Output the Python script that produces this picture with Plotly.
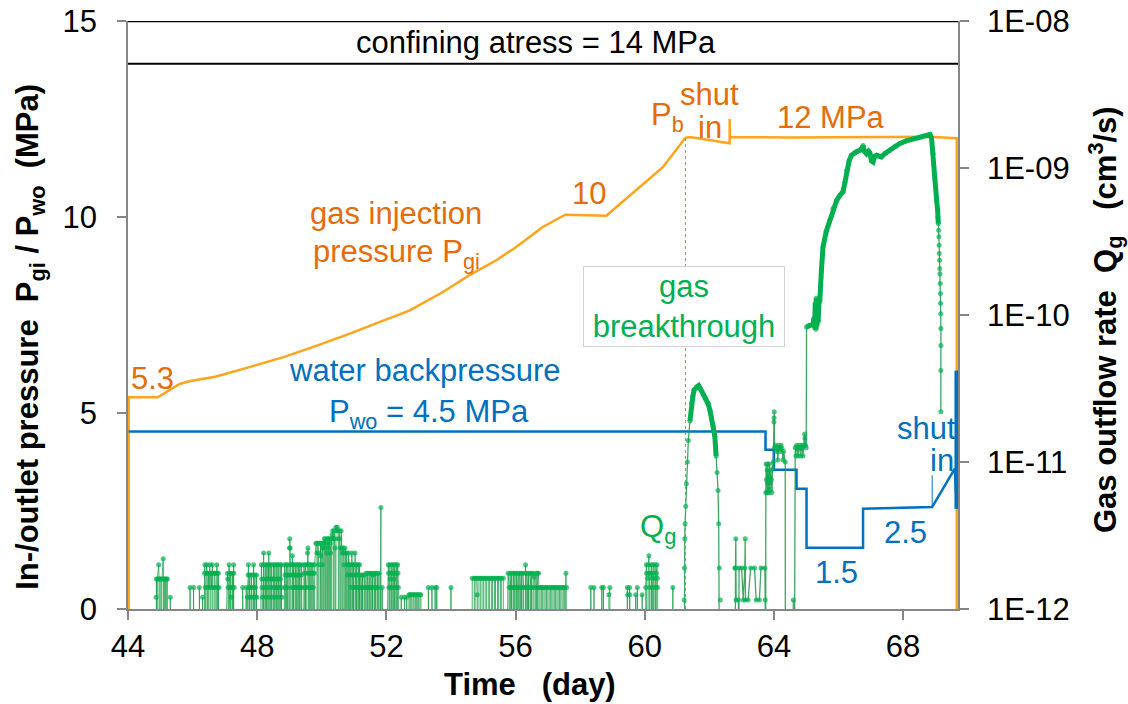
import plotly.graph_objects as go

# ---------------- data ----------------
x_ticks = [44, 48, 52, 56, 60, 64, 68]
y_ticks = [0, 5, 10, 15]
y2_tickvals = [1e-12, 1e-11, 1e-10, 1e-9, 1e-8]
y2_ticktext = ["1E-12", "1E-11", "1E-10", "1E-09", "1E-08"]

# confining stress (MPa)
conf_day = [44.0, 69.7]
conf_mpa = [13.91, 13.91]

# gas injection pressure Pgi (MPa)
pgi_day = [44.02, 44.02, 44.92, 45.60, 45.90, 46.73, 47.76, 48.79, 49.72, 50.85, 51.78, 52.71,
           53.74, 54.56, 55.39, 56.01, 56.83, 57.54, 58.81, 59.63, 60.56, 61.26, 61.39, 62.63,
           62.63, 62.64, 64.50, 66.50, 68.80, 69.66, 69.66]
pgi_mpa = [0.0, 5.40, 5.40, 5.74, 5.81, 5.93, 6.17, 6.42, 6.68, 7.02, 7.32, 7.61,
           8.08, 8.51, 8.89, 9.23, 9.74, 10.06, 10.03, 10.60, 11.27, 12.02, 12.04, 11.88,
           12.50, 12.04, 12.03, 12.04, 12.05, 12.01, 0.0]

# water backpressure Pwo (MPa)
pwo_day = [44.02, 63.74, 63.74, 64.00, 64.00, 64.70, 64.70, 65.01, 65.01, 66.76, 66.76,
           68.90, 69.60, 69.66, 69.66]
pwo_mpa = [4.53, 4.53, 4.06, 4.06, 3.55, 3.55, 3.07, 3.07, 1.56, 1.56, 2.56,
           2.60, 3.58, 2.56, 6.08]

# gas outflow readings before breakthrough: (day, Qg in 1E-12 cm3/s), 0 = below detection
qg_noise_readings = [
    (44.86, 0), (44.87, 1.2), (44.88, 1.6), (44.89, 0), (44.91, 1.6), (44.95, 2.0), (44.96, 1.6), (44.97, 0),
    (44.99, 1.6), (45.02, 1.6), (45.03, 0), (45.05, 1.6), (45.09, 2.2), (45.10, 1.6), (45.11, 0), (45.13, 1.6),
    (45.16, 1.6), (45.17, 0), (45.19, 1.6), (45.22, 1.6), (45.23, 0), (45.30, 0), (45.31, 1.2), (45.32, 0),
    (45.91, 0), (45.92, 1.4), (45.93, 0), (46.02, 0), (46.03, 1.4), (46.04, 0), (46.20, 0), (46.21, 1.4),
    (46.22, 0), (46.30, 0), (46.31, 1.2), (46.32, 0),
    (46.37, 1.75), (46.38, 2.0), (46.39, 1.4), (46.40, 0), (46.42, 1.75), (46.44, 2.0), (46.45, 1.75), (46.46, 1.4),
    (46.47, 0), (46.49, 1.75), (46.51, 1.4), (46.53, 2.0), (46.54, 1.75), (46.55, 0), (46.57, 1.75), (46.59, 1.4),
    (46.61, 2.0), (46.62, 1.75), (46.63, 0), (46.65, 1.4), (46.67, 1.75), (46.69, 1.75), (46.70, 1.4), (46.71, 0),
    (46.73, 1.75), (46.75, 2.0), (46.76, 1.75), (46.77, 1.4), (46.78, 0), (46.80, 1.75), (46.82, 1.4), (46.83, 0),
    (47.08, 1.75), (47.09, 1.6), (47.10, 1.4), (47.11, 0), (47.13, 2.0), (47.14, 1.75), (47.15, 1.4), (47.16, 0),
    (47.18, 1.75), (47.19, 1.2), (47.20, 1.4), (47.21, 0), (47.23, 1.75), (47.24, 1.4), (47.25, 0), (47.27, 2.0),
    (47.28, 1.75), (47.29, 1.4), (47.30, 0), (47.54, 0), (47.55, 1.4), (47.56, 0), (47.65, 0), (47.66, 1.4),
    (47.67, 0),
    (47.70, 1.2), (47.72, 1.7), (47.73, 2.0), (47.74, 1.4), (47.75, 0), (47.77, 1.7), (47.78, 1.2), (47.79, 1.4),
    (47.80, 0), (47.82, 1.7), (47.83, 1.4), (47.84, 1.2), (47.85, 0), (47.87, 1.7), (47.89, 2.0), (47.90, 1.4),
    (47.91, 0), (47.93, 1.7), (47.94, 1.2), (47.95, 1.4), (47.96, 0), (47.98, 1.7), (47.99, 1.2), (48.00, 0),
    (48.13, 2.0), (48.14, 1.6), (48.15, 1.4), (48.16, 1.2), (48.17, 0), (48.19, 2.0), (48.20, 2.4), (48.21, 1.6),
    (48.22, 0), (48.24, 1.4), (48.25, 2.0), (48.26, 1.2), (48.27, 0), (48.29, 1.6), (48.30, 2.0), (48.31, 1.4),
    (48.32, 0), (48.34, 2.0), (48.35, 1.6), (48.36, 2.4), (48.37, 1.2), (48.38, 0), (48.40, 2.0), (48.41, 1.4),
    (48.42, 1.6), (48.43, 0), (48.45, 2.0), (48.46, 1.2), (48.47, 1.6), (48.48, 0), (48.50, 1.4), (48.51, 2.0),
    (48.52, 1.6), (48.53, 0), (48.55, 2.0), (48.56, 1.2), (48.57, 1.4), (48.58, 0), (48.60, 1.6), (48.61, 2.0),
    (48.62, 1.4), (48.63, 0), (48.65, 2.0), (48.66, 1.6), (48.67, 1.2), (48.68, 0), (48.70, 1.4), (48.71, 2.0),
    (48.72, 1.6), (48.73, 0), (48.75, 2.0), (48.76, 1.4), (48.77, 1.2), (48.78, 0),
    (48.85, 2.0), (48.86, 1.7), (48.87, 1.4), (48.88, 0), (48.90, 2.0), (48.91, 1.7), (48.92, 0), (48.94, 1.4),
    (48.95, 2.0), (48.96, 1.7), (48.97, 0), (49.00, 2.6), (49.01, 3.0), (49.02, 2.6), (49.03, 2.0), (49.04, 1.7),
    (49.05, 0), (49.07, 1.4), (49.08, 2.0), (49.09, 2.3), (49.10, 1.7), (49.11, 0), (49.13, 2.0), (49.14, 1.4),
    (49.15, 1.7), (49.16, 0), (49.18, 2.0), (49.19, 1.7), (49.20, 1.4), (49.21, 0), (49.23, 2.0), (49.24, 1.7),
    (49.25, 0), (49.27, 1.4), (49.28, 2.0), (49.29, 1.7), (49.30, 0), (49.32, 2.0), (49.33, 1.4), (49.34, 0),
    (49.36, 1.7), (49.37, 2.0), (49.38, 1.4), (49.40, 0),
    (49.45, 2.0), (49.46, 1.75), (49.47, 1.4), (49.48, 0), (49.50, 2.0), (49.51, 1.75), (49.52, 0), (49.54, 1.4),
    (49.55, 2.0), (49.56, 2.4), (49.57, 2.6), (49.58, 2.0), (49.59, 1.75), (49.60, 0), (49.62, 1.4), (49.63, 2.0),
    (49.64, 1.75), (49.65, 0), (49.67, 2.0), (49.68, 1.4), (49.69, 1.75), (49.70, 0), (49.72, 2.0), (49.73, 1.75),
    (49.74, 1.4), (49.75, 0), (49.77, 1.75), (49.78, 2.0),
    (49.82, 2.8), (49.84, 2.8), (49.85, 2.4), (49.86, 0), (49.88, 2.8), (49.90, 2.4), (49.91, 2.0), (49.92, 0),
    (49.94, 2.8), (49.96, 2.8), (49.97, 2.3), (49.98, 0), (50.00, 2.8), (50.02, 2.6), (50.03, 2.0), (50.04, 0),
    (50.06, 2.8), (50.08, 3.0), (50.09, 2.6), (50.10, 0), (50.12, 3.0), (50.14, 2.8), (50.15, 2.4), (50.16, 0),
    (50.18, 3.0), (50.20, 3.0), (50.21, 2.6), (50.22, 0), (50.24, 3.0), (50.26, 2.8), (50.27, 2.4), (50.28, 0),
    (50.30, 3.0), (50.32, 3.2), (50.34, 3.4), (50.35, 3.0), (50.36, 0), (50.38, 3.4), (50.40, 3.0), (50.41, 2.6),
    (50.42, 0), (50.44, 3.6), (50.46, 3.4), (50.48, 3.6), (50.50, 3.4), (50.51, 3.0), (50.52, 0), (50.54, 3.4),
    (50.56, 3.0), (50.57, 2.6), (50.58, 0), (50.60, 3.4), (50.62, 2.6), (50.63, 2.4), (50.64, 0), (50.66, 2.6),
    (50.68, 2.4), (50.69, 2.0), (50.70, 0), (50.72, 2.6), (50.74, 2.4), (50.75, 0), (50.77, 2.4), (50.79, 2.0),
    (50.80, 1.7), (50.81, 0), (50.83, 2.4), (50.85, 2.0), (50.86, 0),
    (50.88, 2.0), (50.89, 1.7), (50.90, 1.4), (50.91, 0), (50.93, 2.4), (50.94, 2.0), (50.95, 1.7), (50.96, 0),
    (50.98, 2.0), (50.99, 1.4), (51.00, 1.7), (51.01, 0), (51.03, 2.4), (51.04, 2.0), (51.05, 1.4), (51.06, 0),
    (51.08, 2.0), (51.09, 1.7), (51.10, 0), (51.12, 1.4), (51.13, 2.0), (51.14, 1.7), (51.15, 0), (51.17, 2.0),
    (51.18, 1.4), (51.19, 0), (51.21, 1.7), (51.23, 1.4), (51.24, 0), (51.26, 1.7), (51.28, 1.4), (51.29, 0),
    (51.31, 1.7), (51.33, 1.4), (51.34, 0),
    (51.37, 1.75), (51.38, 1.4), (51.39, 0), (51.42, 1.75), (51.43, 1.4), (51.44, 0), (51.47, 1.75), (51.48, 1.4),
    (51.49, 0), (51.52, 1.75), (51.53, 1.4), (51.54, 0), (51.57, 1.75), (51.58, 1.7), (51.59, 0), (51.62, 1.75),
    (51.63, 1.4), (51.64, 0), (51.67, 1.75), (51.68, 1.4), (51.69, 0), (51.72, 1.75), (51.73, 1.4), (51.74, 0),
    (51.77, 1.75), (51.78, 0), (51.83, 4.9), (51.84, 0), (51.87, 1.4), (51.88, 0),
    (52.06, 2.0), (52.07, 1.75), (52.08, 1.4), (52.09, 0), (52.11, 2.0), (52.12, 1.6), (52.13, 1.4), (52.14, 0),
    (52.16, 1.75), (52.17, 2.0), (52.18, 1.4), (52.19, 0), (52.21, 2.0), (52.22, 1.75), (52.23, 1.6), (52.24, 0),
    (52.26, 2.0), (52.27, 1.4), (52.28, 0), (52.30, 1.75), (52.31, 2.0), (52.32, 1.4), (52.33, 0), (52.35, 2.0),
    (52.36, 1.75), (52.37, 1.4), (52.38, 0),
    (52.45, 0), (52.46, 1.2), (52.47, 0), (52.55, 0), (52.56, 1.2), (52.57, 0), (52.62, 0), (52.63, 1.2),
    (52.64, 0), (52.69, 0), (52.70, 1.25), (52.73, 1.25), (52.74, 0), (52.76, 1.25), (52.79, 1.25), (52.80, 0),
    (52.83, 1.25), (52.86, 1.25), (52.87, 0), (52.90, 1.25), (52.93, 1.25), (52.94, 0), (52.97, 1.25), (53.00, 1.25),
    (53.01, 0), (53.04, 1.25), (53.07, 1.25), (53.08, 0),
    (53.29, 0), (53.30, 1.4), (53.31, 0), (53.40, 0), (53.41, 1.4), (53.42, 0), (53.50, 0), (53.51, 1.4),
    (53.52, 0), (53.55, 0), (53.56, 1.4), (53.57, 0), (53.99, 0), (54.00, 1.4), (54.01, 0),
    (54.64, 0), (54.66, 1.62), (54.72, 1.62), (54.73, 0), (54.75, 1.62), (54.80, 1.62), (54.81, 1.25), (54.82, 0),
    (54.84, 1.62), (54.90, 1.62), (54.91, 0), (54.93, 1.62), (54.99, 1.62), (55.00, 0), (55.02, 1.62), (55.08, 1.62),
    (55.09, 0), (55.11, 1.62), (55.17, 1.62), (55.18, 0), (55.20, 1.62), (55.26, 1.62), (55.27, 0), (55.29, 1.62),
    (55.35, 1.62), (55.36, 0), (55.38, 1.62), (55.44, 1.62), (55.45, 0), (55.47, 1.62), (55.53, 1.62), (55.54, 0),
    (55.56, 1.62), (55.62, 1.62), (55.63, 0),
    (55.77, 1.75), (55.80, 1.4), (55.81, 0), (55.83, 1.75), (55.85, 1.4), (55.86, 0), (55.88, 1.75), (55.90, 1.4),
    (55.91, 0), (55.93, 1.75), (55.95, 1.4), (55.96, 0), (55.98, 1.75), (56.00, 1.4), (56.01, 0), (56.03, 1.75),
    (56.05, 1.4), (56.06, 0), (56.08, 1.75), (56.10, 1.4), (56.11, 0), (56.13, 1.75), (56.15, 1.4), (56.16, 0),
    (56.18, 1.75), (56.20, 1.4), (56.21, 0), (56.23, 1.75), (56.25, 1.4), (56.26, 0), (56.29, 1.75), (56.31, 2.0),
    (56.32, 1.4), (56.33, 0), (56.35, 1.75), (56.37, 1.4), (56.38, 0), (56.40, 1.75), (56.42, 1.4), (56.43, 0),
    (56.45, 1.75), (56.47, 1.4), (56.48, 0), (56.50, 1.75), (56.52, 1.4), (56.53, 0), (56.55, 1.75), (56.58, 1.65),
    (56.60, 1.4), (56.61, 0), (56.63, 1.75), (56.65, 1.4), (56.66, 0), (56.68, 1.75), (56.71, 1.75), (56.72, 1.4),
    (56.73, 0), (56.76, 1.4), (56.80, 1.4), (56.81, 0), (56.84, 1.4), (56.88, 1.4), (56.89, 0), (56.92, 1.4),
    (56.96, 1.4), (56.97, 0), (57.00, 1.4), (57.04, 1.4), (57.05, 0), (57.08, 1.4), (57.12, 1.4), (57.13, 0),
    (57.16, 1.4), (57.20, 1.4), (57.21, 0), (57.24, 1.4), (57.28, 1.4), (57.29, 0), (57.32, 1.4), (57.36, 1.4),
    (57.37, 0), (57.40, 1.4), (57.44, 1.4), (57.45, 0), (57.48, 1.4), (57.52, 1.4), (57.53, 0), (57.56, 1.75),
    (57.58, 1.4), (57.60, 0),
    (58.32, 0), (58.33, 1.4), (58.34, 0), (58.42, 0), (58.43, 1.4), (58.44, 0), (58.66, 0), (58.67, 1.4),
    (58.68, 0), (58.71, 0), (58.72, 1.4), (58.73, 0), (58.88, 0), (58.89, 1.25), (58.92, 1.4), (58.93, 0),
    (59.45, 0), (59.46, 1.4), (59.47, 1.25), (59.48, 0), (59.52, 0), (59.53, 1.4), (59.54, 1.25), (59.55, 0),
    (59.71, 0), (59.72, 1.25), (59.73, 0), (59.76, 0), (59.77, 1.4), (59.78, 0), (59.91, 0), (59.92, 1.25),
    (59.93, 0),
    (60.02, 0), (60.03, 1.4), (60.05, 2.0), (60.06, 1.75), (60.07, 0), (60.09, 1.62), (60.11, 2.0), (60.13, 2.3),
    (60.14, 1.75), (60.15, 1.4), (60.16, 0), (60.18, 1.75), (60.20, 2.0), (60.21, 1.62), (60.22, 0), (60.24, 1.4),
    (60.26, 2.0), (60.27, 1.75), (60.28, 0), (60.30, 1.62), (60.32, 2.0), (60.33, 1.4), (60.34, 0), (60.36, 1.75),
    (60.38, 2.0), (60.39, 1.62), (60.40, 1.4), (60.41, 0),
    (60.86, 0), (60.87, 1.4), (60.88, 0),
]

# gas outflow after breakthrough: (day, Qg in cm3/s), 0 = below detection
qg_main_readings = [
    (61.21, 0), (61.22, 1.15e-12), (61.23, 1.9e-12), (61.24, 3.0e-12), (61.25, 3.8e-12), (61.27, 5.0e-12),
    (61.29, 7.1e-12), (61.32, 1.0e-11), (61.35, 1.4e-11), (61.40, 1.9e-11), (61.45, 2.5e-11), (61.49, 2.8e-11),
    (61.53, 3.1e-11), (61.60, 3.25e-11), (61.67, 3.3e-11), (61.74, 3.1e-11), (61.81, 2.9e-11), (61.88, 2.7e-11),
    (61.96, 2.5e-11), (62.02, 2.25e-11), (62.07, 2.0e-11), (62.12, 1.75e-11), (62.17, 1.5e-11), (62.21, 1.1e-11),
    (62.24, 8.5e-12), (62.27, 6.4e-12), (62.29, 3.8e-12), (62.31, 1.9e-12), (62.34, 1.15e-12), (62.35, 0),
    (62.78, 0), (62.79, 1.9e-12), (62.81, 1.9e-12), (62.82, 3.0e-12), (62.83, 1.15e-12), (62.90, 1.15e-12),
    (62.91, 0), (62.92, 1.9e-12), (63.00, 1.9e-12), (63.05, 1.15e-12), (63.10, 1.9e-12), (63.11, 3.0e-12),
    (63.12, 1.15e-12), (63.20, 1.15e-12), (63.28, 1.9e-12), (63.40, 1.9e-12), (63.45, 1.15e-12), (63.55, 1.15e-12),
    (63.60, 1.9e-12), (63.72, 1.9e-12), (63.73, 1.15e-12), (63.74, 0),
    (63.75, 6.2e-12), (63.76, 9.7e-12), (63.77, 7.6e-12), (63.78, 6.2e-12), (63.79, 8.8e-12), (63.80, 7.2e-12),
    (63.81, 9.7e-12), (63.82, 6.2e-12), (63.83, 8.1e-12), (63.84, 7.6e-12), (63.85, 6.2e-12), (63.86, 9.7e-12),
    (63.87, 7.2e-12), (63.88, 6.5e-12), (63.90, 8.8e-12), (63.92, 7.6e-12), (63.94, 6.2e-12), (63.96, 9.0e-12),
    (63.98, 1.0e-11), (64.00, 1.87e-11), (64.005, 2.0e-11), (64.01, 2.2e-11), (64.02, 1.25e-11), (64.05, 1.3e-11),
    (64.08, 1.18e-11), (64.10, 1.24e-11), (64.12, 1.03e-11), (64.15, 1.3e-11), (64.18, 1.24e-11), (64.20, 1.18e-11),
    (64.22, 1.3e-11), (64.25, 1.24e-11), (64.28, 1.03e-11), (64.30, 1.18e-11), (64.35, 1.0e-11), (64.36, 0),
    (64.59, 0), (64.60, 1.15e-12), (64.61, 0),
    (64.66, 1.25e-11), (64.68, 1.1e-11), (64.70, 1.3e-11), (64.72, 1.25e-11), (64.75, 1.1e-11), (64.78, 1.3e-11),
    (64.80, 1.25e-11), (64.83, 1.1e-11), (64.86, 1.3e-11), (64.88, 1.25e-11), (64.90, 1.1e-11), (64.93, 1.3e-11),
    (64.95, 1.55e-11), (64.96, 1.45e-11), (64.98, 1.3e-11), (65.00, 1.25e-11),
    (65.01, 8.3e-11), (65.10, 8.5e-11), (65.21, 8.7e-11), (65.24, 9.5e-11), (65.26, 8.2e-11), (65.28, 1.2e-10),
    (65.30, 8.0e-11), (65.31, 1.3e-10), (65.33, 8.5e-11), (65.35, 1.25e-10), (65.37, 9.0e-11), (65.40, 1.3e-10),
    (65.42, 1.24e-10), (65.47, 2.0e-10), (65.52, 2.9e-10), (65.62, 3.7e-10), (65.73, 4.4e-10), (65.83, 5.3e-10),
    (65.94, 6.0e-10), (66.04, 6.5e-10), (66.14, 6.9e-10), (66.20, 8.0e-10), (66.25, 9.6e-10), (66.33, 1.12e-9),
    (66.40, 1.22e-9), (66.48, 1.26e-9), (66.56, 1.29e-9), (66.66, 1.32e-9), (66.73, 1.36e-9), (66.76, 1.42e-9),
    (66.80, 1.3e-9), (66.87, 1.25e-9), (66.93, 1.3e-9), (66.97, 1.27e-9), (67.02, 1.12e-9), (67.07, 1.1e-9),
    (67.12, 1.2e-9), (67.18, 1.22e-9), (67.25, 1.2e-9), (67.33, 1.19e-9), (67.45, 1.26e-9), (67.59, 1.32e-9),
    (67.75, 1.4e-9), (67.90, 1.47e-9), (68.10, 1.53e-9), (68.31, 1.58e-9), (68.55, 1.62e-9), (68.75, 1.66e-9),
    (68.83, 1.69e-9), (68.88, 1.6e-9), (68.93, 1.25e-9), (68.98, 8.5e-10), (69.04, 6.0e-10), (69.07, 5.15e-10),
    (69.08, 4.65e-10), (69.09, 4.19e-10), (69.10, 3.77e-10), (69.11, 3.4e-10), (69.115, 2.98e-10), (69.12, 2.62e-10),
    (69.13, 2.36e-10), (69.135, 2.07e-10), (69.14, 1.91e-10), (69.15, 1.64e-10), (69.155, 1.40e-10),
    (69.16, 1.20e-10), (69.165, 1.02e-10), (69.17, 8.1e-11), (69.17, 6.2e-11), (69.17, 4.2e-11), (69.17, 2.2e-11),
]

# ---------------- styling ----------------
FONT = "Liberation Sans, Arial, sans-serif"
ORANGE_LINE = "#FFA41C"
ORANGE_TXT = "#E46C0A"
BLUE = "#0070C0"
GREEN = "#00B050"
AXIS_GRAY = "#868686"
FS = 31
FLOOR = 1e-14  # plotting stand-in for readings below detection (off the log axis)

fig = go.Figure()

# pressures on the left axis
fig.add_trace(go.Scatter(x=conf_day, y=conf_mpa, mode="lines",
                         line=dict(color="black", width=2), hoverinfo="skip"))
fig.add_trace(go.Scatter(x=pgi_day, y=pgi_mpa, mode="lines",
                         line=dict(color=ORANGE_LINE, width=2.5), hoverinfo="skip"))
fig.add_trace(go.Scatter(x=pwo_day, y=pwo_mpa, mode="lines",
                         line=dict(color=BLUE, width=2.5), hoverinfo="skip"))
fig.add_trace(go.Scatter(x=pwo_day[-2:], y=pwo_mpa[-2:], mode="lines",
                         line=dict(color=BLUE, width=4.5), hoverinfo="skip"))

# gas outflow rate on the right (log) axis
n_day = [d for d, v in qg_noise_readings]
n_val = [v * 1e-12 if v > 0 else FLOOR for d, v in qg_noise_readings]
n_size = [5 if v > 0 else 0 for d, v in qg_noise_readings]
fig.add_trace(go.Scatter(x=n_day, y=n_val, yaxis="y2", mode="lines+markers",
                         line=dict(color="rgba(30,160,75,0.8)", width=1),
                         marker=dict(size=n_size, color=GREEN, line=dict(width=0)),
                         hoverinfo="skip"))

m_day = [d for d, v in qg_main_readings]
m_val = [v if v > 0 else FLOOR for d, v in qg_main_readings]
m_size = [5 if v > 0 else 0 for d, v in qg_main_readings]
fig.add_trace(go.Scatter(x=m_day, y=m_val, yaxis="y2", mode="lines+markers",
                         line=dict(color="rgba(30,150,70,0.85)", width=1.3),
                         marker=dict(size=m_size, color=GREEN, line=dict(width=0)),
                         hoverinfo="skip"))
# dense logging segments appear as thick bands
peak_idx = [i for i, d in enumerate(m_day) if 61.40 <= d <= 62.21]
rise_idx = [i for i, d in enumerate(m_day) if 65.01 <= d <= 69.09]
for idx in (peak_idx, rise_idx):
    fig.add_trace(go.Scatter(x=[m_day[i] for i in idx], y=[m_val[i] for i in idx], yaxis="y2",
                             mode="lines", line=dict(color=GREEN, width=5), hoverinfo="skip"))

# ---------------- shapes ----------------
shapes = [
    dict(type="line", xref="paper", yref="y", x0=0, x1=1, y0=15, y1=15,
         line=dict(color="black", width=2.5)),
    dict(type="line", xref="x", yref="y", x0=61.26, x1=61.26, y0=0, y1=12.02,
         line=dict(color="#3DB86E", width=1, dash="dot")),
    dict(type="line", xref="x", yref="y", x0=68.90, x1=68.90, y0=2.60, y1=3.41,
         line=dict(color=BLUE, width=1)),
]

# ---------------- annotations ----------------
def ann(text, x, y, color, size=FS, **kw):
    d = dict(text=text, x=x, y=y, xref="x", yref="y", showarrow=False,
             font=dict(family=FONT, size=size, color=color), xanchor="center", yanchor="middle")
    d.update(kw)
    return d

annotations = [
    ann("confining atress = 14 MPa", 56.64, 14.46, "black"),
    ann("gas injection", 52.30, 10.09, ORANGE_TXT),
    ann("pressure P<sub>gi</sub>", 52.32, 9.05, ORANGE_TXT),
    ann("5.3", 44.76, 5.88, ORANGE_TXT),
    ann("10", 58.27, 10.61, ORANGE_TXT),
    ann("P<sub>b</sub>", 60.71, 12.55, ORANGE_TXT),
    ann("shut", 62.01, 13.13, ORANGE_TXT),
    ann("in", 62.01, 12.29, ORANGE_TXT),
    ann("12 MPa", 65.78, 12.54, ORANGE_TXT),
    ann("water backpressure", 53.19, 6.09, BLUE),
    ann("P<sub>wo</sub> = 4.5 MPa", 53.31, 4.97, BLUE),
    ann("gas<br>breakthrough", 61.23, 7.72, GREEN, bgcolor="white", bordercolor="#D3D3D3",
        borderwidth=1, borderpad=2, width=196, height=75),
    ann("Q<sub>g</sub>", 60.40, 2.03, GREEN),
    ann("1.5", 65.94, 0.94, BLUE),
    ann("2.5", 68.06, 1.96, BLUE),
    ann("shut", 68.73, 4.60, BLUE),
    ann("in", 69.19, 3.79, BLUE),
    # axis titles
    dict(text="<b>In-/outlet pressure\u00a0\u00a0P<sub>gi</sub> / P<sub>wo</sub>\u00a0\u00a0(MPa)</b>",
         x=-0.118, y=0.463, xref="paper", yref="paper", showarrow=False, textangle=-90,
         font=dict(family=FONT, size=FS, color="black"), xanchor="center", yanchor="middle"),
    dict(text="<b>Gas outflow rate\u00a0\u00a0Q<sub>g</sub>\u00a0\u00a0\u00a0(cm<sup>3</sup>/s)</b>",
         x=1.177, y=0.493, xref="paper", yref="paper", showarrow=False, textangle=-90,
         font=dict(family=FONT, size=FS, color="black"), xanchor="center", yanchor="middle"),
    dict(text="<b>Time\u00a0\u00a0\u00a0(day)</b>",
         x=0.484, y=-0.129, xref="paper", yref="paper", showarrow=False,
         font=dict(family=FONT, size=FS, color="black"), xanchor="center", yanchor="middle"),
]

axis_common = dict(showline=True, linecolor=AXIS_GRAY, linewidth=1.5, ticks="outside",
                   ticklen=9, tickwidth=1.5, tickcolor=AXIS_GRAY, showgrid=False, zeroline=False,
                   tickfont=dict(family=FONT, size=FS, color="black"))

fig.update_layout(
    width=1128, height=704,
    margin=dict(l=128, r=170, t=21, b=95, autoexpand=False),
    paper_bgcolor="white", plot_bgcolor="white",
    showlegend=False,
    font=dict(family=FONT, size=FS, color="black"),
    xaxis=dict(range=[44, 69.7], tickvals=x_ticks, ticklabelstandoff=0, **axis_common),
    yaxis=dict(range=[0, 15], tickvals=y_ticks, ticklabelstandoff=14, **axis_common),
    yaxis2=dict(type="log", range=[-12, -8], overlaying="y", side="right",
                tickvals=y2_tickvals, ticktext=y2_ticktext, ticklabelstandoff=12, **axis_common),
    shapes=shapes,
    annotations=annotations,
)

fig.write_html("out.html")
